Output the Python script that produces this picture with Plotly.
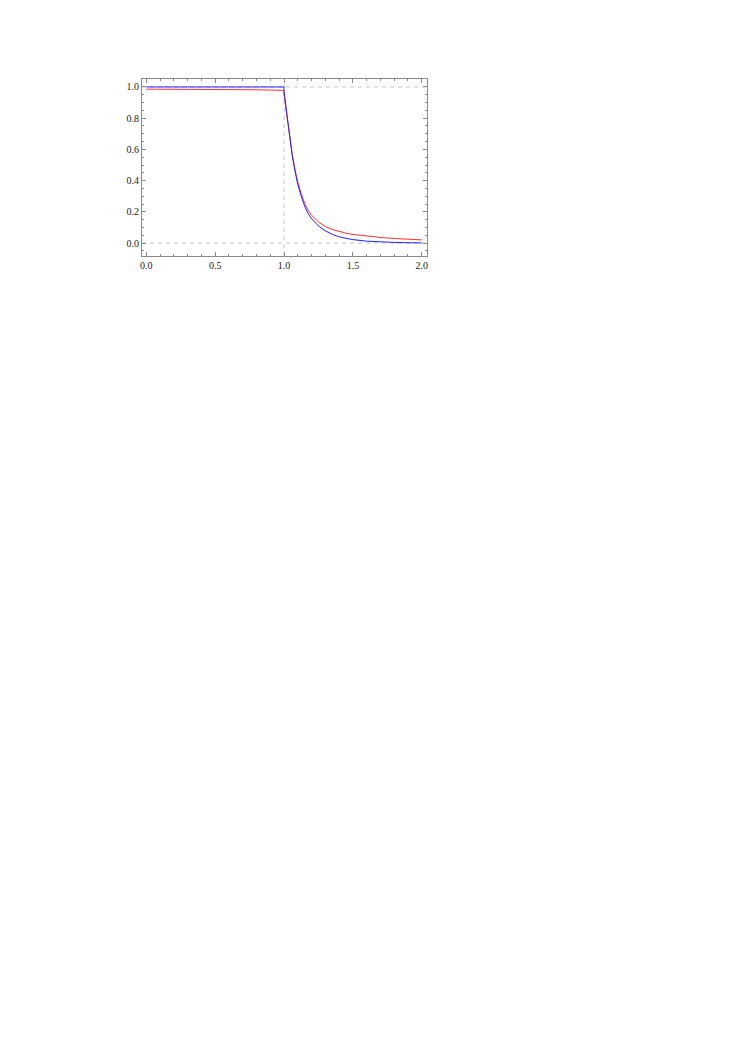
import plotly.graph_objects as go

# Data
blue_x = [0.0, 0.5, 0.999, 1.0, 1.02, 1.04, 1.06, 1.08, 1.10, 1.125, 1.15, 1.175, 1.2, 1.25, 1.3, 1.35, 1.4,
          1.45, 1.5, 1.6, 1.7, 1.8, 1.9, 2.0]
blue_y = [1.0, 1.0, 1.0, 0.97, 0.82, 0.68, 0.56, 0.46, 0.375, 0.30, 0.235, 0.19, 0.155, 0.11, 0.078, 0.056, 0.040,
          0.030, 0.022, 0.012, 0.007, 0.004, 0.002, 0.001]

red_x = [0.0, 0.3, 0.6, 0.8, 0.999, 1.0, 1.02, 1.04, 1.06, 1.08, 1.10, 1.125, 1.15, 1.175, 1.2, 1.25, 1.3, 1.35,
         1.4, 1.45, 1.5, 1.6, 1.7, 1.8, 1.9, 2.0]
red_y = [0.986, 0.986, 0.985, 0.982, 0.978, 0.96, 0.82, 0.68, 0.565, 0.47, 0.39, 0.315, 0.255, 0.21, 0.178, 0.135, 0.106, 0.087,
         0.073, 0.063, 0.055, 0.044, 0.036, 0.029, 0.024, 0.020]

x_ticks = [0.0, 0.5, 1.0, 1.5, 2.0]
x_labels = ["0.0", "0.5", "1.0", "1.5", "2.0"]
y_ticks = [0.0, 0.2, 0.4, 0.6, 0.8, 1.0]
y_labels = ["0.0", "0.2", "0.4", "0.6", "0.8", "1.0"]
grid_x = [1.0]
grid_y = [0.0, 1.0]

fig = go.Figure()
fig.add_trace(go.Scatter(x=red_x, y=red_y, mode="lines", line=dict(color="#ff3030", width=1), showlegend=False))
fig.add_trace(go.Scatter(x=blue_x, y=blue_y, mode="lines", line=dict(color="#2020ff", width=1), showlegend=False))

xr = [-0.031, 2.038]
yr = [-0.083, 1.051]

for gx in grid_x:
    fig.add_shape(type="line", x0=gx, x1=gx, y0=yr[0], y1=yr[1], xref="x", yref="y",
                  line=dict(color="#c4c4c4", width=1, dash="4px,4px"), layer="below")
for gy in grid_y:
    fig.add_shape(type="line", x0=xr[0], x1=xr[1], y0=gy, y1=gy, xref="x", yref="y",
                  line=dict(color="#c4c4c4", width=1, dash="4px,4px"), layer="below")

axis_common = dict(showgrid=False, zeroline=False, showline=True, linecolor="#8a8a8a", linewidth=1,
                   mirror="allticks", ticks="inside", ticklen=4, tickcolor="#8a8a8a", tickwidth=1,
                   tickfont=dict(family="Liberation Serif", size=10, color="#222222"))

fig.update_xaxes(range=xr, tickvals=x_ticks, ticktext=x_labels,
                 minor=dict(ticks="inside", dtick=0.1, tick0=0, ticklen=2, tickcolor="#8a8a8a"),
                 **axis_common)
fig.update_yaxes(range=yr, tickvals=y_ticks, ticktext=y_labels,
                 minor=dict(ticks="inside", dtick=0.05, tick0=0, ticklen=2, tickcolor="#8a8a8a"),
                 **axis_common)

fig.update_layout(width=745, height=1053, autosize=False,
                  margin=dict(l=134, r=326, t=71, b=805),
                  plot_bgcolor="white", paper_bgcolor="white")

fig.write_html("out.html")
